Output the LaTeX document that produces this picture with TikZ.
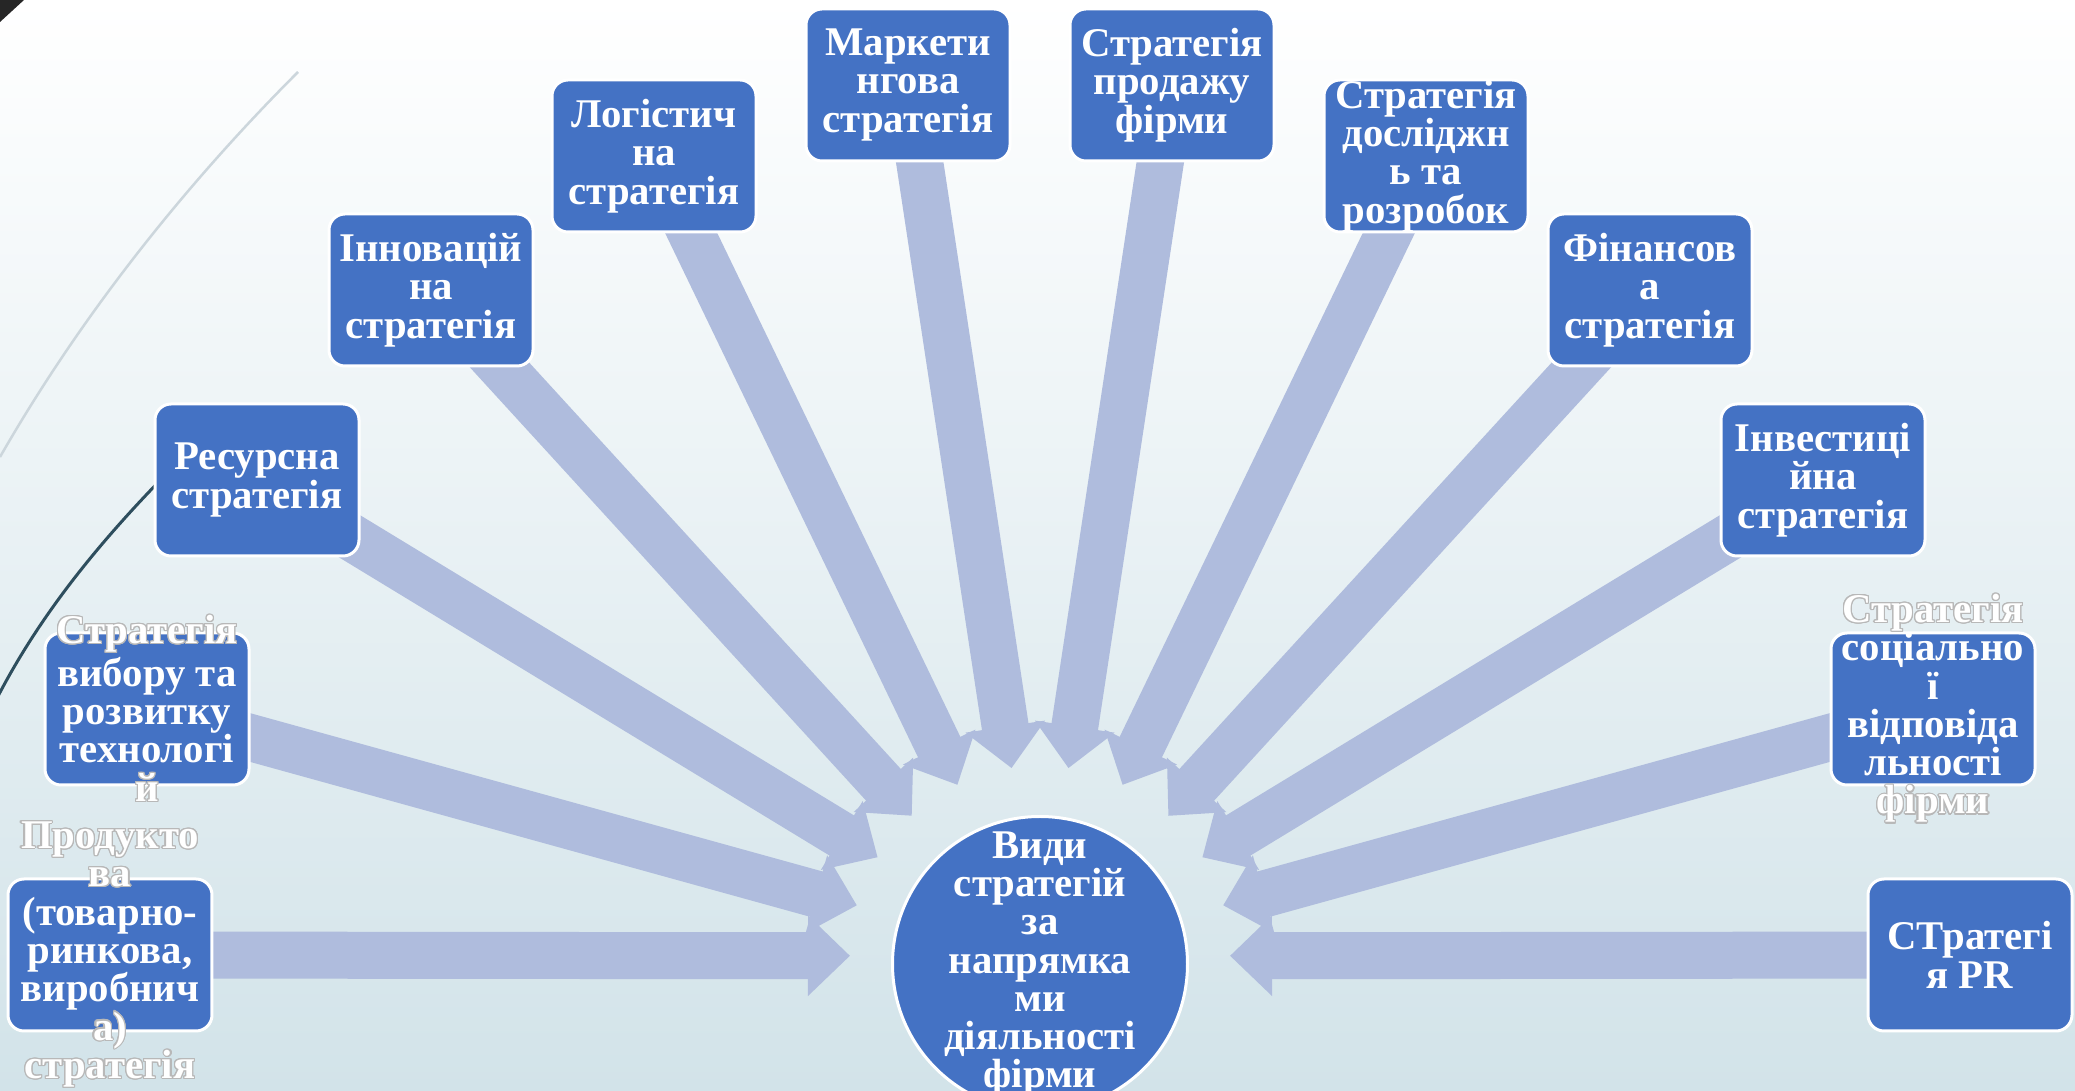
\documentclass[tikz,border=0pt]{standalone}
\usepackage{fontspec}
\setmainfont{Liberation Serif}
\usepackage{contour}
\contourlength{0.35pt}
\usetikzlibrary{arrows.meta,positioning}

\definecolor{boxblue}{HTML}{4472C4}
\definecolor{spokeblue}{HTML}{AFBCDD}
\definecolor{bgbottom}{HTML}{D2E3E9}
\definecolor{arcgray}{HTML}{CCD6DC}
\definecolor{arcdark}{HTML}{2E4E5E}

% white letters that stick out of a box get a thin grey edge
\newcommand{\outl}[1]{\contour{black!28}{#1}}

\pgfdeclarelayer{backdrop}
\pgfdeclarelayer{spokes}
\pgfsetlayers{backdrop,spokes,main}

\begin{document}
\begin{tikzpicture}[x=0.1mm,y=-0.1mm,
  sbox/.style={draw=white, line width=0.3mm, fill=boxblue, rounded corners=1.6mm,
    minimum width=20.4mm, minimum height=15.2mm, inner sep=0pt},
  stext/.style={text=white, align=center, inner sep=0pt,
    font=\fontsize{11.6}{10.9}\selectfont\bfseries},
  hubnode/.style={circle, draw=white, line width=0.3mm, fill=boxblue,
    minimum size=29.5mm, inner sep=0pt},
  spoke/.style={spokeblue, line width=4.7mm,
    -{Triangle[width=7.8mm,length=4.2mm]}, shorten >=19mm}]
\useasboundingbox (0,0) rectangle (2075,1091);

\begin{pgfonlayer}{backdrop}
\shade[top color=white, bottom color=bgbottom] (0,0) rectangle (2075,1091);
\fill[black!85] (0,0) -- (24,0) -- (0,22) -- cycle;
\draw[arcgray, line width=0.25mm] (298,72) .. controls (200,170) and (90,300) .. (0,457);
\draw[arcdark, line width=0.3mm] (185,455) .. controls (110,530) and (40,610) .. (-10,712);
\end{pgfonlayer}

\node[hubnode, label={[stext]center:Види\\стратегій\\за\\напрямка\\ми\\діяльності\\фірми}] (hub) at (1040,964) {};
\coordinate (focus) at (1040,956);

\node[sbox, label={[stext]center:\outl{Продукто}\\\outl{ва}\\(товарно-\\ринкова,\\виробнич\\\outl{а)}\\\outl{стратегія}}] (b1) at (110,955) {};
\node[sbox, label={[stext]center:\outl{Стратегія}\\вибору та\\розвитку\\технологі\\\outl{й}}] (b2) at (147,709) {};
\node[sbox, label={[stext]center:Ресурсна\\стратегія}] (b3) at (257,480) {};
\node[sbox, label={[stext]center:Інновацій\\на\\стратегія}] (b4) at (431,290) {};
\node[sbox, label={[stext]center:Логістич\\на\\стратегія}] (b5) at (654,156) {};
\node[sbox, label={[stext]center:Маркети\\нгова\\стратегія}] (b6) at (908,85) {};
\node[sbox, label={[stext]center:Стратегія\\продажу\\фірми}] (b7) at (1172,85) {};
\node[sbox, label={[stext]center:Стратегія\\досліджн\\ь та\\розробок}] (b8) at (1426,156) {};
\node[sbox, label={[stext]center:Фінансов\\а\\стратегія}] (b9) at (1650,290) {};
\node[sbox, label={[stext]center:Інвестиці\\йна\\стратегія}] (b10) at (1823,480) {};
\node[sbox, label={[stext]center:\outl{Стратегія}\\соціально\\ї\\відповіда\\льності\\\outl{фірми}}] (b11) at (1933,709) {};
\node[sbox, label={[stext]center:СТратегі\\я PR}] (b12) at (1970,955) {};

\begin{pgfonlayer}{spokes}
\draw[spoke] (b1.center) -- (focus);
\draw[spoke] (b2.center) -- (focus);
\draw[spoke] (b3.center) -- (focus);
\draw[spoke] (b4.center) -- (focus);
\draw[spoke] (b5.center) -- (focus);
\draw[spoke] (b6.center) -- (focus);
\draw[spoke] (b7.center) -- (focus);
\draw[spoke] (b8.center) -- (focus);
\draw[spoke] (b9.center) -- (focus);
\draw[spoke] (b10.center) -- (focus);
\draw[spoke] (b11.center) -- (focus);
\draw[spoke] (b12.center) -- (focus);
\end{pgfonlayer}
\end{tikzpicture}
\end{document}
